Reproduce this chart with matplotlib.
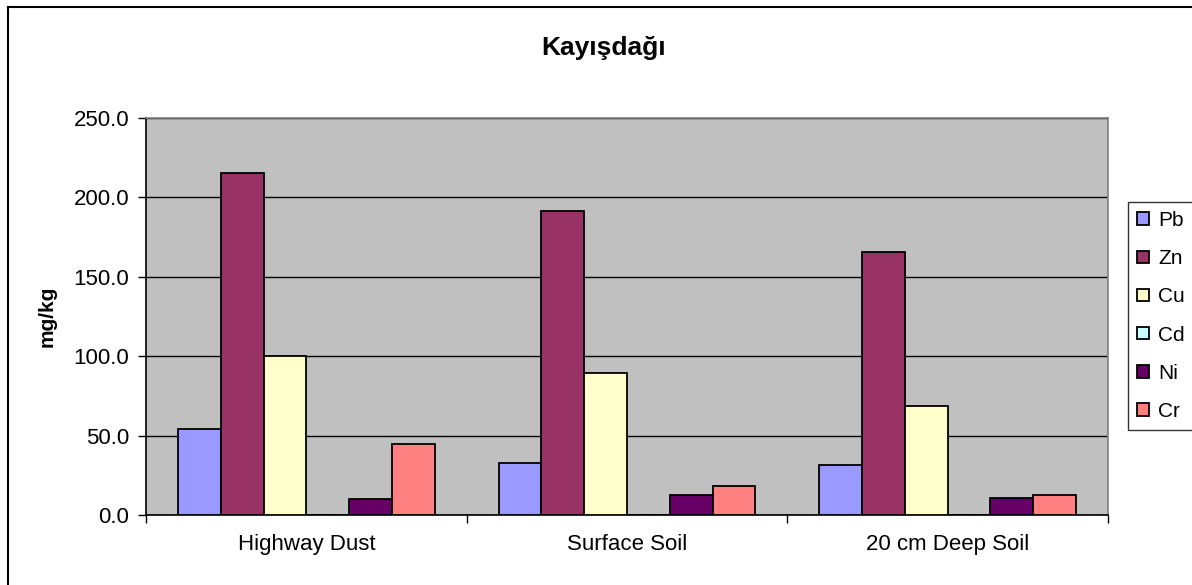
import matplotlib
matplotlib.use("Agg")
import matplotlib.pyplot as plt
from matplotlib.lines import Line2D
import numpy as np

plt.rcParams['font.family'] = ['Liberation Sans', 'DejaVu Sans']

categories = ["Highway Dust", "Surface Soil", "20 cm Deep Soil"]
series = ["Pb", "Zn", "Cu", "Cd", "Ni", "Cr"]
Pb = [54.3, 32.8, 31.5]
Zn = [215.2, 191.5, 165.8]
Cu = [100.2, 89.7, 68.6]
Cd = [0.3, 0.3, 0.3]
Ni = [10.2, 12.5, 10.4]
Cr = [45.0, 18.2, 12.5]
values = [Pb, Zn, Cu, Cd, Ni, Cr]
colors = ["#9999FF", "#993366", "#FFFFCC", "#CCFFFF", "#660066", "#FF8080"]
yticks = [0, 50, 100, 150, 200, 250]

W, H = 1192, 585
fig = plt.figure(figsize=(W / 100, H / 100), dpi=100)
ax = fig.add_axes([146 / W, 1 - 515 / H, (1108 - 146) / W, (515 - 118) / H])
ax.set_facecolor("#C0C0C0")

n = len(series)
bw = 1.0 / (n + 1.5)
x = np.arange(len(categories))
for i, (name, vals, c) in enumerate(zip(series, values, colors)):
    pos = x - 0.5 + 0.75 * bw + (i + 0.5) * bw
    ax.bar(pos, vals, width=bw, color=c, edgecolor="black", linewidth=1.3,
           label=name, zorder=3)

ax.set_xlim(-0.5, len(categories) - 0.5)
ax.set_ylim(0, 250)
ax.set_yticks(yticks)
ax.set_yticklabels([f"{v:.1f}" for v in yticks], fontsize=16)
ax.yaxis.grid(True, color="black", linewidth=1.0, zorder=1)
ax.set_axisbelow(True)

ax.set_xticks(np.arange(len(categories) + 1) - 0.5)
ax.set_xticklabels([])
ax.set_xticks(x, minor=True)
ax.set_xticklabels(categories, minor=True, fontsize=16)
ax.tick_params(axis="x", which="minor", length=0, pad=14)
ax.tick_params(axis="x", which="major", length=6, width=1, direction="out")
ax.tick_params(axis="y", length=6, width=1, direction="out", pad=6)

for s in ["top", "right"]:
    ax.spines[s].set_color("#808080")
    ax.spines[s].set_linewidth(1.2)
for s in ["left", "bottom"]:
    ax.spines[s].set_color("black")
    ax.spines[s].set_linewidth(1.2)

ax.set_ylabel("mg/kg", fontsize=15, fontweight="bold", labelpad=12)
fig.text(604 / W, 1 - 48 / H, "Kayışdağı", fontsize=19, fontweight="bold",
         ha="center", va="center")

leg = fig.legend(loc="center left", bbox_to_anchor=(1128 / W, 1 - 316 / H),
                 fontsize=15, frameon=True, fancybox=False, edgecolor="black",
                 handlelength=0.55, handleheight=0.55, handletextpad=0.45,
                 labelspacing=0.92, borderpad=0.45, borderaxespad=0)
leg.get_frame().set_linewidth(1.0)

# outer chart border (left and top edges)
fig.add_artist(Line2D([8 / W, 8 / W], [0, 1 - 7 / H], transform=fig.transFigure,
                      color="black", linewidth=1.5))
fig.add_artist(Line2D([8 / W, 1], [1 - 7 / H, 1 - 7 / H], transform=fig.transFigure,
                      color="black", linewidth=1.5))

fig.savefig("out.png", dpi=100, facecolor="white")
